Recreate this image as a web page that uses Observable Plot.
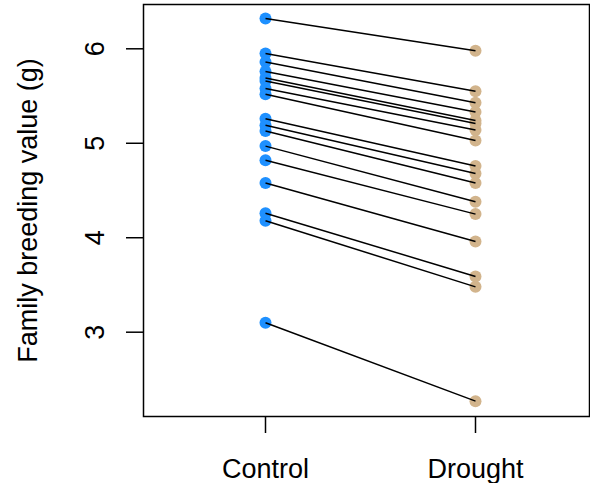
<!DOCTYPE html>
<html>
<head>
<meta charset="utf-8">
<script src="https://cdn.jsdelivr.net/npm/d3@7"></script>
<script src="https://cdn.jsdelivr.net/npm/@observablehq/plot@0.6"></script>
<style>
  html, body { margin: 0; padding: 0; background: #fff; }
</style>
</head>
<body>
<div id="chart"></div>
<script>
const categories = ["Control", "Drought"];
const yTicks = [3, 4, 5, 6];
const yLabel = "Family breeding value (g)";
const controlValues = [6.32, 5.95, 5.86, 5.76, 5.69, 5.66, 5.58, 5.52, 5.26, 5.19, 5.13, 4.97, 4.82, 4.58, 4.26, 4.18, 3.10];
const droughtValues = [5.98, 5.55, 5.43, 5.33, 5.24, 5.21, 5.14, 5.03, 4.76, 4.68, 4.58, 4.38, 4.25, 3.96, 3.59, 3.48, 2.27];
const colors = ["#1E90FF", "#D2B48C"];

const families = controlValues.map((c, i) => ({family: i + 1, control: c, drought: droughtValues[i]}));
const points = families.flatMap(d => [
  {family: d.family, treatment: categories[0], value: d.control},
  {family: d.family, treatment: categories[1], value: d.drought}
]);

const chart = Plot.plot({
  width: 590,
  height: 483,
  marginLeft: 143,
  marginRight: 1,
  marginTop: 4,
  marginBottom: 67,
  style: {fontFamily: "'Liberation Sans', Arial, sans-serif", fontSize: "27px", color: "black", background: "white"},
  x: {type: "point", domain: categories, range: [265, 475], padding: 0},
  y: {domain: [3, 6], range: [331.7, 48.3]},
  color: {domain: categories, range: colors},
  marks: [
    Plot.frame({stroke: "black", strokeWidth: 1.5}),
    Plot.axisX({tickSize: 17, tickPadding: 25, fontSize: 27, label: null, strokeWidth: 1.5}),
    Plot.axisY({ticks: yTicks, tickFormat: d => String(d), tickSize: 17, tickRotate: -90, tickPadding: 23, fontSize: 27, label: null, strokeWidth: 1.5}),
    Plot.text([yLabel], {frameAnchor: "left", dx: -107, rotate: -90, lineAnchor: "bottom", textAnchor: "middle", fontSize: 27, text: d => d}),
    Plot.dot(points, {x: "treatment", y: "value", r: 6, fill: d => d.treatment, stroke: null}),
    Plot.link(families, {x1: () => categories[0], x2: () => categories[1], y1: "control", y2: "drought", stroke: "black", strokeWidth: 1.5})
  ]
});
document.getElementById("chart").append(chart);
</script>
</body>
</html>
